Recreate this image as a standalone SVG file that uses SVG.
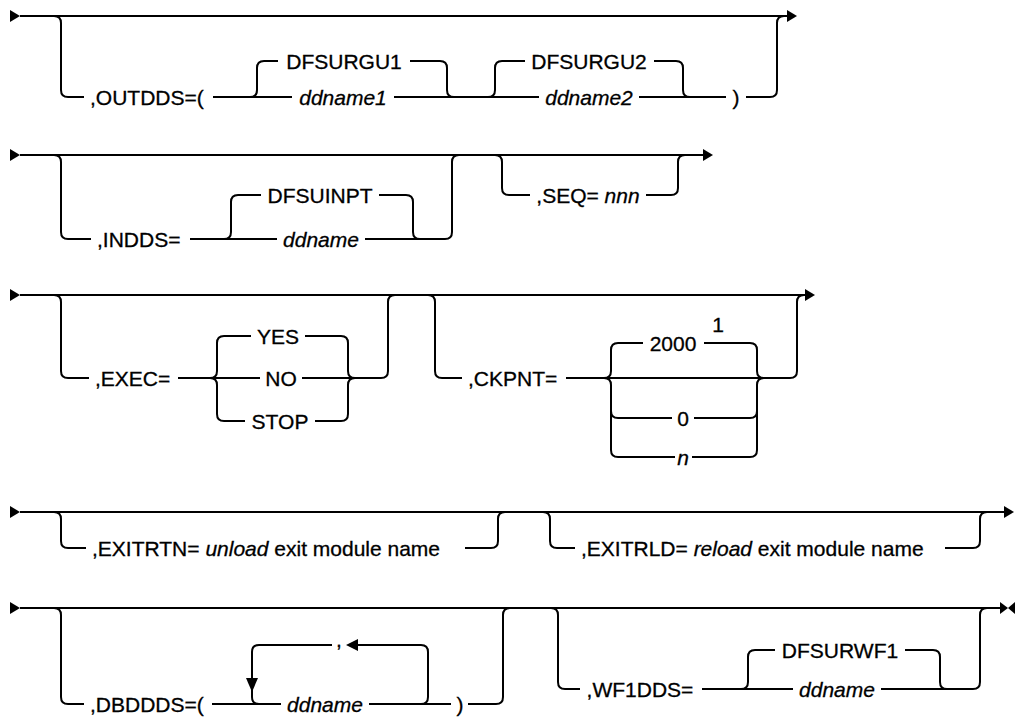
<svg xmlns="http://www.w3.org/2000/svg" width="1016" height="719" viewBox="0 0 1016 719">
<style>
.ln{fill:none;stroke:#000;stroke-width:2}
.ah{fill:#000;stroke:none}
text{font-family:"Liberation Sans",Arial,sans-serif;font-size:21px;fill:#000;stroke:#000;stroke-width:0.3;dominant-baseline:central}
.m{text-anchor:middle}
.i{font-style:italic}
</style>
<rect width="1016" height="719" fill="#fff"/>
<g id="connectors">
<!-- Row 1 -->
<polygon class="ah" points="10,10 20,16 10,22"/>
<path class="ln" d="M20 16 H788"/>
<polygon class="ah" points="787,10 797,16 787,22"/>
<path class="ln" d="M54 16 Q61 16 61 23 V90 Q61 97 68 97 H84"/>
<path class="ln" d="M213 97 H292"/>
<path class="ln" d="M250 97 Q257 97 257 90 V68 Q257 61 264 61 H278"/>
<path class="ln" d="M410 61 H440 Q447 61 447 68 V90 Q447 97 454 97"/>
<path class="ln" d="M394 97 H539"/>
<path class="ln" d="M488 97 Q495 97 495 90 V68 Q495 61 502 61 H525"/>
<path class="ln" d="M654 61 H676 Q683 61 683 68 V90 Q683 97 690 97"/>
<path class="ln" d="M639 97 H726"/>
<path class="ln" d="M746 97 H770 Q777 97 777 90 V23 Q777 16 784 16"/>
<!-- Row 2 -->
<polygon class="ah" points="10,149 20,155 10,161"/>
<path class="ln" d="M20 155 H704"/>
<polygon class="ah" points="703,149 713,155 703,161"/>
<path class="ln" d="M54 155 Q61 155 61 162 V232 Q61 239 68 239 H91"/>
<path class="ln" d="M190 239 H277"/>
<path class="ln" d="M224 239 Q231 239 231 232 V202 Q231 195 238 195 H261"/>
<path class="ln" d="M379 195 H406 Q413 195 413 202 V232 Q413 239 420 239"/>
<path class="ln" d="M365 239 H445 Q452 239 452 232 V162 Q452 155 459 155"/>
<path class="ln" d="M495 155 Q502 155 502 162 V188 Q502 195 509 195 H530"/>
<path class="ln" d="M646 195 H671 Q678 195 678 188 V162 Q678 155 685 155"/>
<!-- Row 3 -->
<polygon class="ah" points="10,289 20,295 10,301"/>
<path class="ln" d="M20 295 H806"/>
<polygon class="ah" points="805,289 815,295 805,301"/>
<path class="ln" d="M54 295 Q61 295 61 302 V371 Q61 378 68 378 H89"/>
<path class="ln" d="M178 378 H260"/>
<path class="ln" d="M210 378 Q217 378 217 371 V343 Q217 336 224 336 H251"/>
<path class="ln" d="M210 378 Q217 378 217 385 V414 Q217 421 224 421 H245"/>
<path class="ln" d="M305 336 H341 Q348 336 348 343 V371 Q348 378 355 378"/>
<path class="ln" d="M315 421 H341 Q348 421 348 414 V385 Q348 378 355 378"/>
<path class="ln" d="M302 378 H381 Q388 378 388 371 V302 Q388 295 395 295"/>
<path class="ln" d="M428 295 Q435 295 435 302 V371 Q435 378 442 378 H462"/>
<path class="ln" d="M566 378 H790 Q797 378 797 371 V302 Q797 295 804 295"/>
<path class="ln" d="M604 378 Q611 378 611 371 V350 Q611 343 618 343 H643"/>
<path class="ln" d="M604 378 Q611 378 611 385 V450 Q611 457 618 457 H675"/>
<path class="ln" d="M611 411 Q611 418 618 418 H672"/>
<path class="ln" d="M704 343 H750 Q757 343 757 350 V371 Q757 378 764 378"/>
<path class="ln" d="M694 418 H750 Q757 418 757 411"/>
<path class="ln" d="M692 457 H750 Q757 457 757 450 V385 Q757 378 764 378"/>
<!-- Row 4 -->
<polygon class="ah" points="10,506 20,512 10,518"/>
<path class="ln" d="M20 512 H1005"/>
<polygon class="ah" points="1004,506 1014,512 1004,518"/>
<path class="ln" d="M54 512 Q61 512 61 519 V541 Q61 548 68 548 H86"/>
<path class="ln" d="M465 548 H491 Q498 548 498 541 V519 Q498 512 505 512"/>
<path class="ln" d="M543 512 Q550 512 550 519 V541 Q550 548 557 548 H575"/>
<path class="ln" d="M945 548 H973 Q980 548 980 541 V519 Q980 512 987 512"/>
<!-- Row 5 -->
<polygon class="ah" points="10,602 20,608 10,614"/>
<path class="ln" d="M20 608 H1002"/>
<polygon class="ah" points="1000,602 1008,608 1000,614"/>
<polygon class="ah" points="1015,602 1008,608 1015,614"/>
<path class="ln" d="M54 608 Q61 608 61 615 V697 Q61 704 68 704 H84"/>
<path class="ln" d="M212 704 H281"/>
<path class="ln" d="M332 645 H259 Q252 645 252 652 V697 Q252 704 259 704"/>
<polygon class="ah" points="246,678 258,678 252,692"/>
<path class="ln" d="M358 645 H421 Q428 645 428 652 V697 Q428 704 421 704"/>
<polygon class="ah" points="346,645 358,639 358,651"/>
<path class="ln" d="M369 704 H451"/>
<path class="ln" d="M468 704 H496 Q503 704 503 697 V615 Q503 608 510 608"/>
<path class="ln" d="M551 608 Q558 608 558 615 V682 Q558 689 565 689 H580"/>
<path class="ln" d="M702 689 H793"/>
<path class="ln" d="M741 689 Q748 689 748 682 V657 Q748 650 755 650 H775"/>
<path class="ln" d="M905 650 H933 Q940 650 940 657 V682 Q940 689 947 689"/>
<path class="ln" d="M881 689 H973 Q980 689 980 682 V615 Q980 608 987 608"/>
</g>
<g id="n-outdds"><text x="90" y="97">,OUTDDS=(</text></g>
<g id="n-dfsurgu1"><text x="344" y="61" class="m">DFSURGU1</text></g>
<g id="n-ddname1"><text x="343" y="97" class="m i">ddname1</text></g>
<g id="n-dfsurgu2"><text x="589" y="61" class="m">DFSURGU2</text></g>
<g id="n-ddname2"><text x="589" y="97" class="m i">ddname2</text></g>
<g id="n-rparen1"><text x="736" y="97" class="m">)</text></g>
<g id="n-indds"><text x="97" y="239">,INDDS=</text></g>
<g id="n-dfsuinpt"><text x="320" y="195" class="m">DFSUINPT</text></g>
<g id="n-ddname-in"><text x="321" y="239" class="m i">ddname</text></g>
<g id="n-seq"><text x="588" y="195" class="m">,SEQ= <tspan class="i">nnn</tspan></text></g>
<g id="n-exec"><text x="95" y="378">,EXEC=</text></g>
<g id="n-yes"><text x="278" y="336" class="m">YES</text></g>
<g id="n-no"><text x="281" y="378" class="m">NO</text></g>
<g id="n-stop"><text x="280" y="421" class="m">STOP</text></g>
<g id="n-ckpnt"><text x="468" y="378">,CKPNT=</text></g>
<g id="n-2000"><text x="673" y="343" class="m">2000</text><text x="718" y="324" class="m">1</text></g>
<g id="n-0"><text x="683" y="418" class="m">0</text></g>
<g id="n-n"><text x="683" y="457" class="m i">n</text></g>
<g id="n-exitrtn"><text x="92" y="548">,EXITRTN= <tspan class="i">unload</tspan> exit module name</text></g>
<g id="n-exitrld"><text x="581" y="548">,EXITRLD= <tspan class="i">reload</tspan> exit module name</text></g>
<g id="n-dbddds"><text x="90" y="704">,DBDDDS=(</text></g>
<g id="n-comma"><text x="339" y="639" class="m">,</text></g>
<g id="n-ddname-db"><text x="325" y="704" class="m i">ddname</text></g>
<g id="n-rparen2"><text x="460" y="704" class="m">)</text></g>
<g id="n-wf1dds"><text x="640" y="689" class="m">,WF1DDS=</text></g>
<g id="n-dfsurwf1"><text x="840" y="650" class="m">DFSURWF1</text></g>
<g id="n-ddname-wf"><text x="837" y="689" class="m i">ddname</text></g>
</svg>
